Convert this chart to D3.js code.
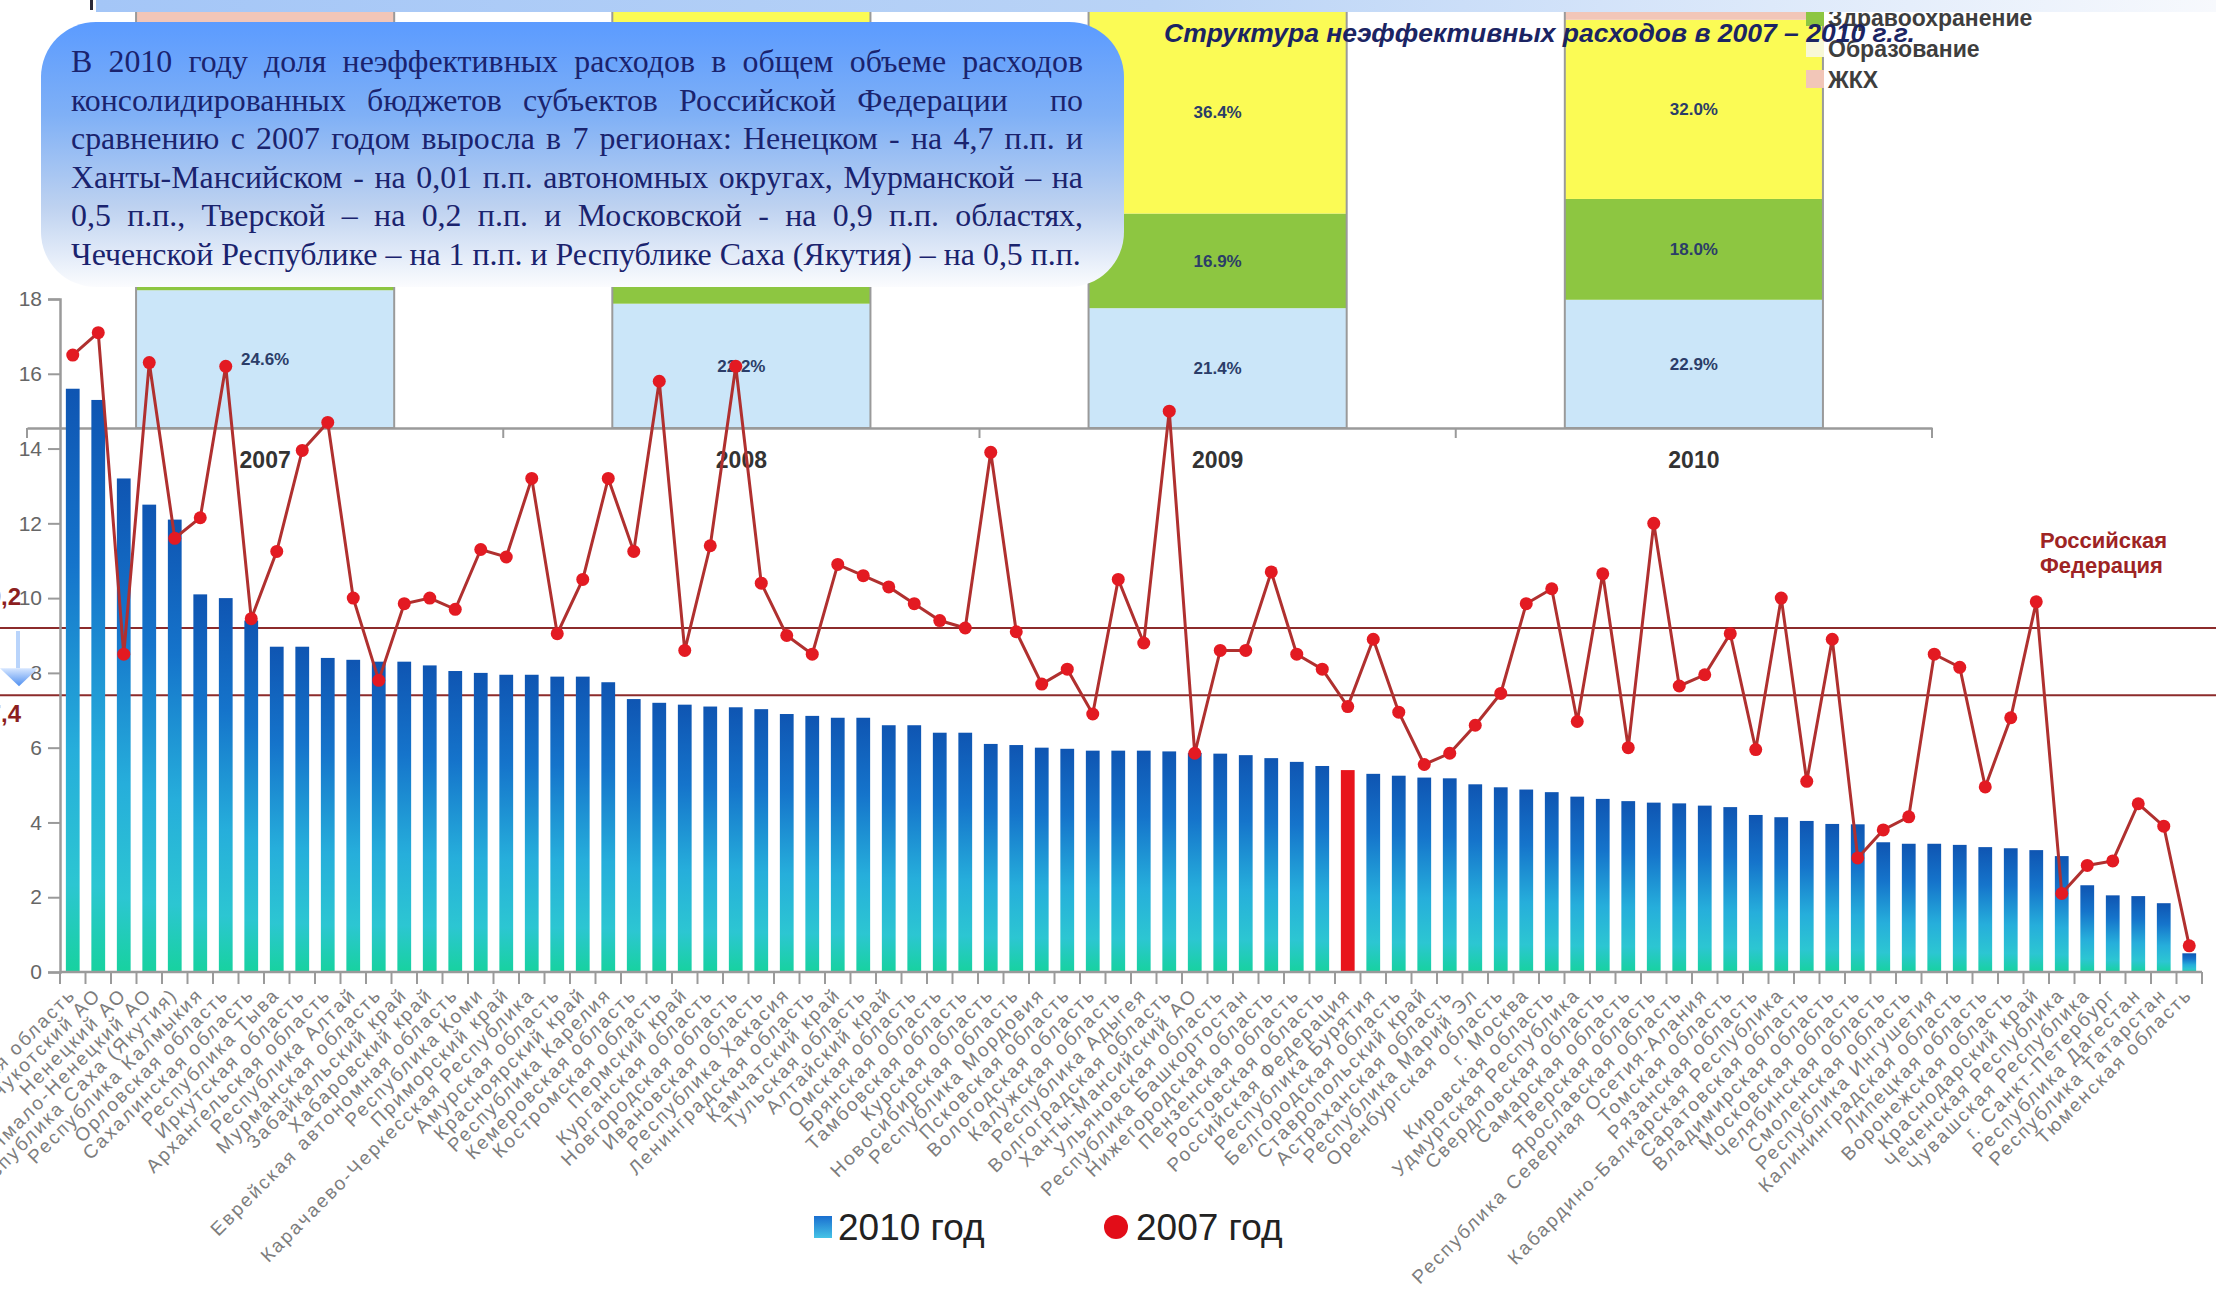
<!DOCTYPE html>
<html lang="ru">
<head>
<meta charset="utf-8">
<script src="https://cdn.jsdelivr.net/npm/d3@7"></script>
<style>
  html, body { margin: 0; padding: 0; background: #ffffff; }
  svg { display: block; }
</style>
</head>
<body>
<svg id="chart" width="2216" height="1309"></svg>
<script>
// ---------- data ----------
const categories = [
  "Магаданская область", "Чукотский АО", "Ненецкий АО", "Ямало-Ненецкий АО",
  "Республика Саха (Якутия)", "Республика Калмыкия", "Орловская область", "Сахалинская область",
  "Республика Тыва", "Иркутская область", "Архангельская область", "Республика Алтай",
  "Мурманская область", "Забайкальский край", "Хабаровский край", "Еврейская автономная область",
  "Республика Коми", "Приморский край", "Карачаево-Черкесская Республика", "Амурская область",
  "Красноярский край", "Республика Карелия", "Кемеровская область", "Костромская область",
  "Пермский край", "Курганская область", "Новгородская область", "Ивановская область",
  "Республика Хакасия", "Ленинградская область", "Камчатский край", "Тульская область",
  "Алтайский край", "Омская область", "Брянская область", "Тамбовская область",
  "Курская область", "Новосибирская область", "Республика Мордовия", "Псковская область",
  "Вологодская область", "Калужская область", "Республика Адыгея", "Волгоградская область",
  "Ханты-Мансийский АО", "Ульяновская область", "Республика Башкортостан", "Нижегородская область",
  "Пензенская область", "Ростовская область", "Российская Федерация", "Республика Бурятия",
  "Белгородская область", "Ставропольский край", "Астраханская область", "Республика Марий Эл",
  "Оренбургская область", "г. Москва", "Кировская область", "Удмуртская Республика",
  "Свердловская область", "Самарская область", "Тверская область", "Ярославская область",
  "Республика Северная Осетия-Алания", "Томская область", "Рязанская область", "Кабардино-Балкарская Республика",
  "Саратовская область", "Владимирская область", "Московская область", "Челябинская область",
  "Смоленская область", "Республика Ингушетия", "Калининградская область", "Липецкая область",
  "Воронежская область", "Краснодарский край", "Чеченская Республика", "Чувашская Республика",
  "г. Санкт-Петербург", "Республика Дагестан", "Республика Татарстан", "Тюменская область"
];

// share of inefficient spending, %
const values2010 = [
  15.6, 15.3, 13.2, 12.5, 12.1, 10.1, 10.0, 9.4, 8.7, 8.7, 8.4, 8.35,
  8.3, 8.3, 8.2, 8.05, 8.0, 7.95, 7.95, 7.9, 7.9, 7.75, 7.3, 7.2,
  7.15, 7.1, 7.08, 7.03, 6.9, 6.85, 6.8, 6.8, 6.6, 6.6, 6.4, 6.4,
  6.1, 6.07, 6.0, 5.97, 5.92, 5.92, 5.92, 5.9, 5.86, 5.84, 5.8, 5.72,
  5.62, 5.51, 5.4, 5.3, 5.25, 5.2, 5.18, 5.02, 4.94, 4.88, 4.81, 4.69,
  4.63, 4.57, 4.53, 4.51, 4.45, 4.41, 4.2, 4.14, 4.04, 3.96, 3.95, 3.47,
  3.43, 3.43, 3.4, 3.34, 3.31, 3.26, 3.1, 2.32, 2.05, 2.03, 1.84, 0.5
];
const values2007 = [
  16.5, 17.1, 8.5, 16.3, 11.6, 12.15, 16.2, 9.45, 11.25, 13.95, 14.7, 10.0,
  7.8, 9.85, 10.0, 9.7, 11.3, 11.1, 13.2, 9.05, 10.5, 13.2, 11.25, 15.8,
  8.6, 11.4, 16.2, 10.4, 9.0, 8.5, 10.9, 10.6, 10.3, 9.85, 9.4, 9.2,
  13.9, 9.1, 7.7, 8.1, 6.9, 10.5, 8.8, 15.0, 5.85, 8.6, 8.6, 10.7,
  8.5, 8.1, 7.1, 8.9, 6.95, 5.55, 5.85, 6.6, 7.45, 9.85, 10.25, 6.7,
  10.65, 6.0, 12.0, 7.65, 7.95, 9.05, 5.95, 10.0, 5.1, 8.9, 3.05, 3.8,
  4.15, 8.5, 8.15, 4.95, 6.8, 9.9, 2.1, 2.85, 2.97, 4.5, 3.9, 0.7
];
const yTicks = [0, 2, 4, 6, 8, 10, 12, 14, 16, 18];
const highlighted = "Российская Федерация";

// Russian Federation reference levels
const rfLevels = [9.2, 7.4];
const rfLabels = ["9,2", "7,4"];

// structure of inefficient spending, % of total
const insetYears = ["2007", "2008", "2009", "2010"];
const insetOther = [24.6, 22.2, 21.4, 22.9];
const insetHealth = [15.5, 17.0, 16.9, 18.0];
const insetEducation = [31.5, 36.0, 36.4, 32.0];
const insetHousing = [28.4, 24.8, 25.3, 27.1];
const insetKeys = ["Прочие", "Здравоохранение", "Образование", "ЖКХ"];
const insetLegend = ["Здравоохранение", "Образование", "ЖКХ"];

const noteLines = [
  "В 2010 году доля неэффективных расходов в общем объеме расходов",
  "консолидированных бюджетов субъектов Российской Федерации  по",
  "сравнению с 2007 годом выросла в 7 регионах: Ненецком - на 4,7 п.п. и",
  "Ханты-Мансийском - на 0,01 п.п. автономных округах, Мурманской – на",
  "0,5 п.п., Тверской – на 0,2 п.п. и Московской - на 0,9 п.п. областях,",
  "Чеченской Республике – на 1 п.п. и Республике Саха (Якутия) – на 0,5 п.п."
];
const insetTitle = "Структура неэффективных расходов в 2007 – 2010 г.г.";
const seriesNames = ["2010 год", "2007 год"];

// ---------- setup ----------
const svg = d3.select("#chart");
const W = 2216, H = 1309;
svg.append("rect").attr("width", W).attr("height", H).attr("fill", "#ffffff");
const defs = svg.append("defs");

const barGrad = defs.append("linearGradient").attr("id", "barGrad")
  .attr("x1", 0).attr("y1", 0).attr("x2", 0).attr("y2", 1);
[[0, "#0f55b2"], [0.3, "#1574cb"], [0.62, "#26aedb"], [0.85, "#2cc6d2"], [1, "#17d29f"]]
  .forEach(([o, c]) => barGrad.append("stop").attr("offset", o).attr("stop-color", c));

const legGrad = defs.append("linearGradient").attr("id", "legGrad")
  .attr("x1", 0).attr("y1", 0).attr("x2", 0).attr("y2", 1);
[[0, "#1a6fd0"], [1, "#45c3e6"]]
  .forEach(([o, c]) => legGrad.append("stop").attr("offset", o).attr("stop-color", c));

const boxGrad = defs.append("linearGradient").attr("id", "boxGrad")
  .attr("x1", 0).attr("y1", 0).attr("x2", 0).attr("y2", 1);
[[0, "#5b9bff"], [0.35, "#7fb0f6"], [0.7, "#bed2f0"], [1, "#fbfcfe"]]
  .forEach(([o, c]) => boxGrad.append("stop").attr("offset", o).attr("stop-color", c));

const bandGrad = defs.append("linearGradient").attr("id", "bandGrad")
  .attr("x1", 0).attr("y1", 0).attr("x2", 1).attr("y2", 0);
[[0, "#a4c6f7"], [0.5, "#b9d3f6"], [1, "#f7f9fd"]]
  .forEach(([o, c]) => bandGrad.append("stop").attr("offset", o).attr("stop-color", c));

const arrowGrad = defs.append("linearGradient").attr("id", "arrowGrad")
  .attr("x1", 0).attr("y1", 0).attr("x2", 0).attr("y2", 1);
[[0, "#d6e6ff"], [1, "#4f8ff0"]]
  .forEach(([o, c]) => arrowGrad.append("stop").attr("offset", o).attr("stop-color", c));

// note box geometry (used to skip labels that sit under it)
const box = { x: 41, y: 22, w: 1083, h: 265 };

// ---------- inset: stacked structure chart ----------
const inset = svg.append("g");
const xi = d3.scaleBand().domain(insetYears).range([27, 1932]).paddingInner(0.458).paddingOuter(0.229);
const yi = d3.scaleLinear().domain([0, 100]).range([428, -132]);
const insetRows = insetYears.map((yr, i) => ({
  year: yr, "Прочие": insetOther[i], "Здравоохранение": insetHealth[i],
  "Образование": insetEducation[i], "ЖКХ": insetHousing[i]
}));
const insetColor = d3.scaleOrdinal().domain(insetKeys)
  .range(["#cbe6f9", "#8dc641", "#fbfb55", "#f2c6b8"]);
const stacked = d3.stack().keys(insetKeys)(insetRows);

stacked.forEach(layer => {
  inset.selectAll(null).data(layer).join("rect")
    .attr("x", d => xi(d.data.year))
    .attr("y", d => yi(d[1]))
    .attr("width", xi.bandwidth())
    .attr("height", d => yi(d[0]) - yi(d[1]))
    .attr("fill", insetColor(layer.key));
});
inset.selectAll(null).data(insetRows).join("rect")
  .attr("x", d => xi(d.year)).attr("y", yi(100))
  .attr("width", xi.bandwidth()).attr("height", yi(0) - yi(100))
  .attr("fill", "none").attr("stroke", "#9a9a9a").attr("stroke-width", 2);
const segVisible = d => {
  const sx = xi(d.data.year) + xi.bandwidth() / 2, sy = (yi(d[0]) + yi(d[1])) / 2;
  const underBox = sx > box.x && sx < box.x + box.w && sy < box.y + box.h;
  return sy > 30 && !underBox;
};
stacked.forEach(layer => {
  inset.selectAll(null).data(layer.filter(segVisible)).join("text")
    .attr("x", d => xi(d.data.year) + xi.bandwidth() / 2)
    .attr("y", d => (yi(d[0]) + yi(d[1])) / 2 + 6)
    .attr("text-anchor", "middle")
    .attr("font-family", "Liberation Sans, Arial, sans-serif")
    .attr("font-weight", "bold").attr("font-size", 17)
    .attr("fill", "#2b3d68")
    .text(d => d3.format(".1f")(d[1] - d[0]) + "%");
});
const insetAxis = inset.append("g").attr("transform", `translate(0,${yi(0)})`)
  .call(d3.axisBottom(xi).tickSize(0).tickPadding(24));
insetAxis.select(".domain").attr("stroke", "#9a9a9a").attr("stroke-width", 2.5);
insetAxis.selectAll("text")
  .attr("font-family", "Liberation Sans, Arial, sans-serif")
  .attr("font-weight", "bold").attr("font-size", 23).attr("fill", "#333333");
// dividers between year groups
const insetBounds = [xi.range()[0]].concat(insetYears.map(y => xi(y) + xi.bandwidth() + (xi.step() - xi.bandwidth()) / 2));
inset.selectAll(null).data(insetBounds).join("line")
  .attr("x1", d => d).attr("x2", d => d)
  .attr("y1", yi(0)).attr("y2", yi(0) + 10)
  .attr("stroke", "#9a9a9a").attr("stroke-width", 2);

// inset legend
const insetLegendG = svg.append("g");
insetLegend.forEach((name, i) => {
  const yy = 26 + i * 31;
  insetLegendG.append("rect").attr("x", 1806).attr("y", yy - 18).attr("width", 18).attr("height", 18)
    .attr("fill", name === "Образование" ? "#f8f8d6" : insetColor(name));
  insetLegendG.append("text").attr("x", 1828).attr("y", yy)
    .attr("font-family", "Liberation Sans, Arial, sans-serif")
    .attr("font-weight", "bold").attr("font-size", 23).attr("fill", "#3e3e3e")
    .text(name);
});

// header band
svg.append("rect").attr("x", 96).attr("y", 0).attr("width", W - 96).attr("height", 12).attr("fill", "url(#bandGrad)");
svg.append("rect").attr("x", 90).attr("y", 0).attr("width", 3).attr("height", 10).attr("fill", "#2a2a3a");

// ---------- main chart ----------
const x = d3.scaleBand().domain(categories).range([60, 2202]).paddingInner(0.46).paddingOuter(0.23);
const y = d3.scaleLinear().domain([0, 18]).range([972, 299]);
const cx = c => x(c) + x.bandwidth() / 2;
const main = svg.append("g");

// reference lines
main.selectAll(null).data(rfLevels).join("line")
  .attr("x1", 0).attr("x2", W)
  .attr("y1", d => y(d)).attr("y2", d => y(d))
  .attr("stroke", "#8c2b2b").attr("stroke-width", 2);

// bars (2010)
main.selectAll(null).data(categories).join("rect")
  .attr("x", c => x(c))
  .attr("y", (c, i) => y(values2010[i]))
  .attr("width", x.bandwidth())
  .attr("height", (c, i) => y(0) - y(values2010[i]))
  .attr("fill", c => c === highlighted ? "#e8141c" : "url(#barGrad)");

// y axis
const yAxis = main.append("g").attr("transform", "translate(60,0)")
  .call(d3.axisLeft(y).tickValues(yTicks).tickSize(12).tickPadding(6));
yAxis.select(".domain").attr("stroke", "#9a9a9a").attr("stroke-width", 2.5);
yAxis.selectAll(".tick line").attr("stroke", "#9a9a9a").attr("stroke-width", 2);
yAxis.selectAll("text").attr("font-family", "Liberation Sans, Arial, sans-serif")
  .attr("font-size", 21).attr("fill", "#666666");

// x axis with ticks on category boundaries
main.append("line").attr("x1", 60).attr("x2", x.range()[1]).attr("y1", y(0)).attr("y2", y(0))
  .attr("stroke", "#9a9a9a").attr("stroke-width", 2.5);
const bounds = [x.range()[0]].concat(categories.map(c => x(c) + x.bandwidth() + (x.step() - x.bandwidth()) / 2));
main.selectAll(null).data(bounds).join("line")
  .attr("x1", d => d).attr("x2", d => d)
  .attr("y1", y(0)).attr("y2", y(0) + 12)
  .attr("stroke", "#9a9a9a").attr("stroke-width", 2);
main.selectAll(null).data(categories).join("text")
  .attr("transform", c => `translate(${cx(c) + 4},${y(0) + 24}) rotate(-45)`)
  .attr("text-anchor", "end")
  .attr("font-family", "Liberation Sans, Arial, sans-serif")
  .attr("font-size", 19).attr("letter-spacing", 2.2).attr("fill", "#7d7d7d")
  .text(c => c);

// 2007 line with markers
const line = d3.line().x((v, i) => cx(categories[i])).y(v => y(v));
main.append("path").datum(values2007).attr("d", line)
  .attr("fill", "none").attr("stroke", "#b0302f").attr("stroke-width", 3);
main.selectAll(null).data(values2007).join("circle")
  .attr("cx", (v, i) => cx(categories[i])).attr("cy", v => y(v)).attr("r", 6.5)
  .attr("fill", "#e31a22");

// reference level labels and arrow
main.selectAll(null).data(rfLevels).join("text")
  .attr("x", 21)
  .attr("y", (d, i) => i === 0 ? y(d) - 23 : y(d) + 27)
  .attr("text-anchor", "end")
  .attr("font-family", "Liberation Sans, Arial, sans-serif")
  .attr("font-weight", "bold").attr("font-size", 24).attr("fill", "#8c1f1f")
  .text((d, i) => rfLabels[i]);
const tipY = y(rfLevels[1]) - 9;
main.append("rect").attr("x", 16).attr("y", y(rfLevels[0]) + 3).attr("width", 4)
  .attr("height", tipY - 18 - y(rfLevels[0]) - 3).attr("fill", "#b9d4fb");
main.append("path")
  .attr("d", `M0,${tipY - 18} L38,${tipY - 18} L19,${tipY} Z`)
  .attr("fill", "url(#arrowGrad)");

main.append("text").attr("x", 2040).attr("y", 548)
  .attr("font-family", "Liberation Sans, Arial, sans-serif")
  .attr("font-weight", "bold").attr("font-size", 22).attr("fill", "#9e2424")
  .selectAll("tspan").data(["Российская", "Федерация"]).join("tspan")
  .attr("x", 2040).attr("dy", (d, i) => i === 0 ? 0 : 25).text(d => d);

// legend
const leg = svg.append("g");
leg.append("rect").attr("x", 814).attr("y", 1216).attr("width", 18).attr("height", 22).attr("fill", "url(#legGrad)");
leg.append("text").attr("x", 838).attr("y", 1240)
  .attr("font-family", "Liberation Sans, Arial, sans-serif").attr("font-size", 37).attr("fill", "#222222")
  .text(seriesNames[0]);
leg.append("circle").attr("cx", 1116).attr("cy", 1227).attr("r", 12).attr("fill", "#e20d18");
leg.append("text").attr("x", 1136).attr("y", 1240)
  .attr("font-family", "Liberation Sans, Arial, sans-serif").attr("font-size", 37).attr("fill", "#222222")
  .text(seriesNames[1]);

// ---------- note box ----------
const note = svg.append("g");
note.append("rect").attr("x", box.x).attr("y", box.y).attr("width", box.w).attr("height", box.h)
  .attr("rx", 55).attr("ry", 55).attr("fill", "url(#boxGrad)");
const noteFont = "Liberation Serif, Times New Roman, serif";
const textLeft = 71, textRight = 1083;
const probe = note.append("text").attr("font-family", noteFont).attr("font-size", 30)
  .text(noteLines[noteLines.length - 1]);
const fs = 30 * (textRight - textLeft - 2) / probe.node().getComputedTextLength();
probe.remove();
noteLines.forEach((ln, li) => {
  const baseY = 72 + li * 38.6;
  const g = note.append("text").attr("font-family", noteFont).attr("font-size", fs)
    .attr("fill", "#1a236e").attr("y", baseY);
  const words = ln.split(" ");
  const widths = words.map(w => {
    if (!w) return 0;
    const t = note.append("text").attr("font-family", noteFont).attr("font-size", fs).text(w);
    const wd = t.node().getComputedTextLength(); t.remove(); return wd;
  });
  const total = d3.sum(widths);
  const isLast = li === noteLines.length - 1;
  const gap = isLast ? fs * 0.25 : (textRight - textLeft - total) / (words.length - 1);
  let cur = textLeft;
  words.forEach((w, wi) => {
    if (w) g.append("tspan").attr("x", cur).attr("y", baseY).text(w);
    cur += widths[wi] + gap;
  });
});

// inset title
const title = svg.append("text").attr("x", 1164).attr("y", 42)
  .attr("font-family", "Liberation Sans, Arial, sans-serif")
  .attr("font-weight", "bold").attr("font-style", "italic").attr("font-size", 26)
  .attr("fill", "#1b2463").text(insetTitle);
const tw = title.node().getComputedTextLength();
title.attr("font-size", 26 * 751 / tw);
</script>
</body>
</html>
